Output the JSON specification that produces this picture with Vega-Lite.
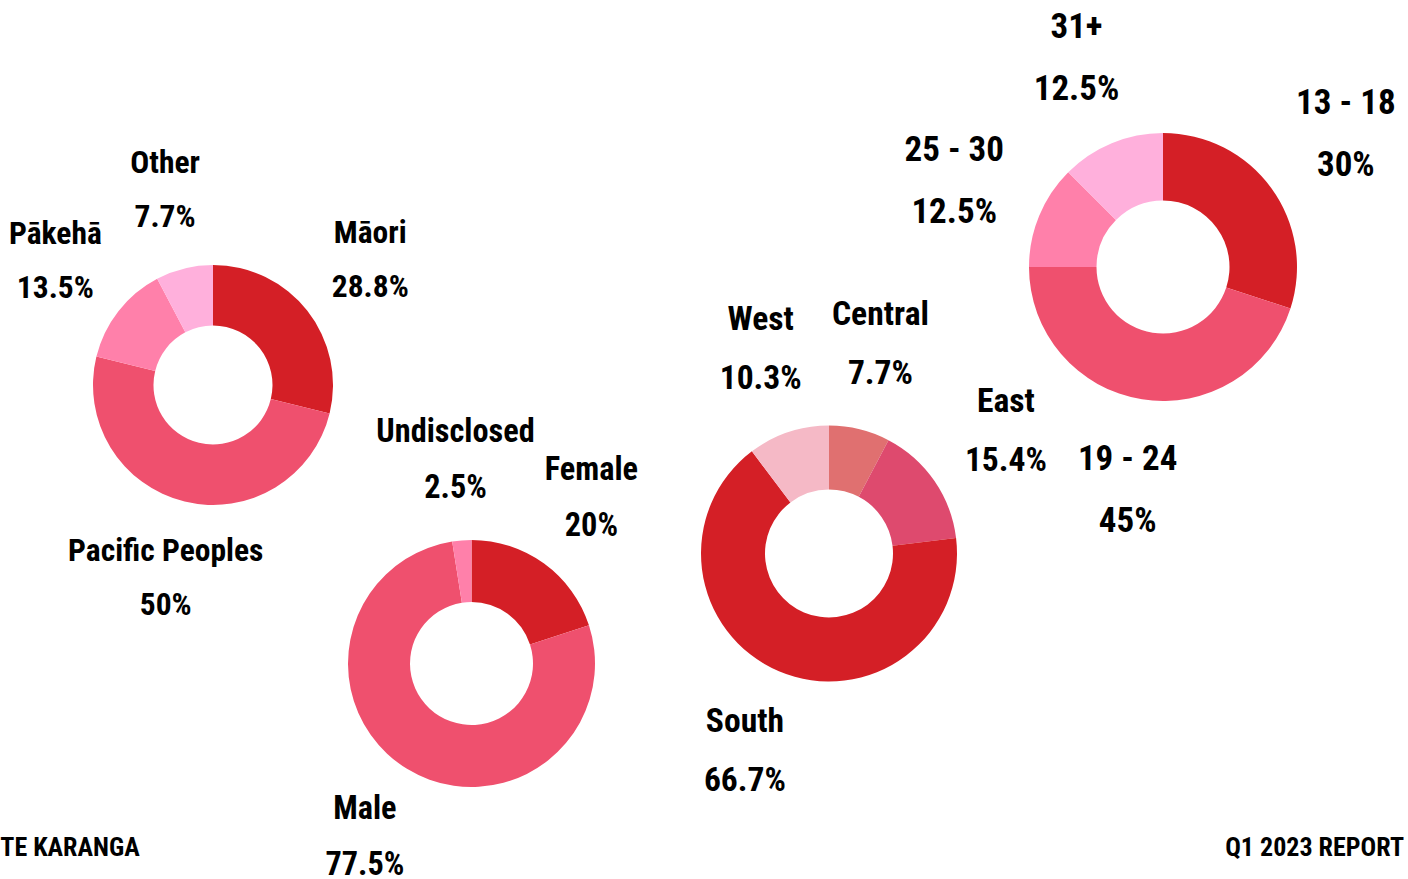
{
  "$schema": "https://vega.github.io/schema/vega-lite/v6.json",
  "padding": 0,
  "bounds": "flush",
  "align": "none",
  "columns": 4,
  "spacing": {"row": -230, "column": 0},
  "resolve": {"scale": {"color": "independent", "theta": "independent"}},
  "background": "white",
  "config": {
    "view": {"stroke": null},
    "text": {"font": "Liberation Sans Narrow, Roboto Condensed, DejaVu Sans Condensed, sans-serif", "fontWeight": "bold", "fill": "black"}
  },
  "datasets": {
    "ethnicity": [
      {"category": "Māori", "share": 0.288, "rank": 1},
      {"category": "Pacific Peoples", "share": 0.5, "rank": 2},
      {"category": "Pākehā", "share": 0.135, "rank": 3},
      {"category": "Other", "share": 0.077, "rank": 4}
    ],
    "gender": [
      {"category": "Female", "share": 0.2, "rank": 1},
      {"category": "Male", "share": 0.775, "rank": 2},
      {"category": "Undisclosed", "share": 0.025, "rank": 3}
    ],
    "region": [
      {"category": "Central", "share": 0.077, "rank": 1},
      {"category": "East", "share": 0.154, "rank": 2},
      {"category": "South", "share": 0.667, "rank": 3},
      {"category": "West", "share": 0.103, "rank": 4}
    ],
    "age": [
      {"category": "13 - 18", "share": 0.3, "rank": 1},
      {"category": "19 - 24", "share": 0.45, "rank": 2},
      {"category": "25 - 30", "share": 0.125, "rank": 3},
      {"category": "31+", "share": 0.125, "rank": 4}
    ],
    "footer": [
      {"label": "TE KARANGA", "side": "left"},
      {"label": "Q1 2023 REPORT", "side": "right"}
    ]
  },
  "concat": [
    {
      "width": 424,
      "height": 770,
      "data": {"name": "ethnicity"},
      "encoding": {
        "theta": {"field": "share", "type": "quantitative", "stack": true},
        "order": {"field": "rank", "type": "quantitative"}
      },
      "layer": [
        {
          "mark": {"type": "arc", "outerRadius": 120, "innerRadius": 59.5},
          "encoding": {
            "color": {"field": "category", "type": "nominal", "legend": null,
              "scale": {"domain": ["Māori", "Pacific Peoples", "Pākehā", "Other"], "range": ["#d41f26", "#ef506e", "#ff80aa", "#ffb0dc"]}}
          }
        },
        {
          "mark": {"type": "text", "radius": 200, "dy": -27, "fontSize": 31.5, "baseline": "middle", "align": "center"},
          "encoding": {"detail": {"field": "category"}, "text": {"field": "category"}}
        },
        {
          "mark": {"type": "text", "radius": 200, "dy": 27, "fontSize": 31.5, "baseline": "middle", "align": "center"},
          "encoding": {"detail": {"field": "category"}, "text": {"field": "share", "type": "quantitative", "format": ".1~%"}}
        }
      ]
    },
    {"width": 1, "height": 1, "data": {"values": []}, "mark": "text", "encoding": {}},
    {"width": 1, "height": 1, "data": {"values": []}, "mark": "text", "encoding": {}},
    {
      "width": 46,
      "height": 534,
      "data": {"name": "age"},
      "encoding": {
        "theta": {"field": "share", "type": "quantitative", "stack": true},
        "order": {"field": "rank", "type": "quantitative"}
      },
      "layer": [
        {
          "mark": {"type": "arc", "outerRadius": 134, "innerRadius": 66.5},
          "encoding": {
            "color": {"field": "category", "type": "nominal", "legend": null,
              "scale": {"domain": ["13 - 18", "19 - 24", "25 - 30", "31+"], "range": ["#d41f26", "#ef506e", "#ff80aa", "#ffb0dc"]}}
          }
        },
        {
          "mark": {"type": "text", "radius": 226, "dy": -31, "fontSize": 35, "baseline": "middle", "align": "center"},
          "encoding": {"detail": {"field": "category"}, "text": {"field": "category"}}
        },
        {
          "mark": {"type": "text", "radius": 226, "dy": 31, "fontSize": 35, "baseline": "middle", "align": "center"},
          "encoding": {"detail": {"field": "category"}, "text": {"field": "share", "type": "quantitative", "format": ".1~%"}}
        }
      ]
    },
    {
      "width": 138,
      "height": 308,
      "data": {"name": "footer"},
      "transform": [{"filter": "datum.side === 'left'"}],
      "mark": {"type": "text", "fontSize": 26, "baseline": "middle", "align": "center"},
      "encoding": {"text": {"field": "label"}, "y": {"value": "height"}}
    },
    {
      "width": 93,
      "height": 247,
      "data": {"name": "gender"},
      "encoding": {
        "theta": {"field": "share", "type": "quantitative", "stack": true},
        "order": {"field": "rank", "type": "quantitative"}
      },
      "layer": [
        {
          "mark": {"type": "arc", "outerRadius": 123.5, "innerRadius": 61.5},
          "encoding": {
            "color": {"field": "category", "type": "nominal", "legend": null,
              "scale": {"domain": ["Female", "Male", "Undisclosed"], "range": ["#d41f26", "#ef506e", "#ff80aa"]}}
          }
        },
        {
          "mark": {"type": "text", "radius": 204, "dy": -28, "fontSize": 32.3, "baseline": "middle", "align": "center"},
          "encoding": {"detail": {"field": "category"}, "text": {"field": "category"}}
        },
        {
          "mark": {"type": "text", "radius": 204, "dy": 28, "fontSize": 32.3, "baseline": "middle", "align": "center"},
          "encoding": {"detail": {"field": "category"}, "text": {"field": "share", "type": "quantitative", "format": ".1~%"}}
        }
      ]
    },
    {
      "width": 622,
      "height": 27,
      "data": {"name": "region"},
      "encoding": {
        "theta": {"field": "share", "type": "quantitative", "stack": true},
        "order": {"field": "rank", "type": "quantitative"}
      },
      "layer": [
        {
          "mark": {"type": "arc", "outerRadius": 128, "innerRadius": 64},
          "encoding": {
            "color": {"field": "category", "type": "nominal", "legend": null,
              "scale": {"domain": ["Central", "East", "South", "West"], "range": ["#e07070", "#de4a6e", "#d41f26", "#f5b9c6"]}}
          }
        },
        {
          "mark": {"type": "text", "radius": 215, "dy": -29.5, "fontSize": 33.6, "baseline": "middle", "align": "center"},
          "encoding": {"detail": {"field": "category"}, "text": {"field": "category"}}
        },
        {
          "mark": {"type": "text", "radius": 215, "dy": 29.5, "fontSize": 33.6, "baseline": "middle", "align": "center"},
          "encoding": {"detail": {"field": "category"}, "text": {"field": "share", "type": "quantitative", "format": ".1~%"}}
        }
      ]
    },
    {
      "width": 264,
      "height": 308,
      "data": {"name": "footer"},
      "transform": [{"filter": "datum.side === 'right'"}],
      "mark": {"type": "text", "fontSize": 26, "baseline": "middle", "align": "right"},
      "encoding": {"text": {"field": "label"}, "x": {"value": "width"}, "y": {"value": "height"}}
    }
  ]
}
